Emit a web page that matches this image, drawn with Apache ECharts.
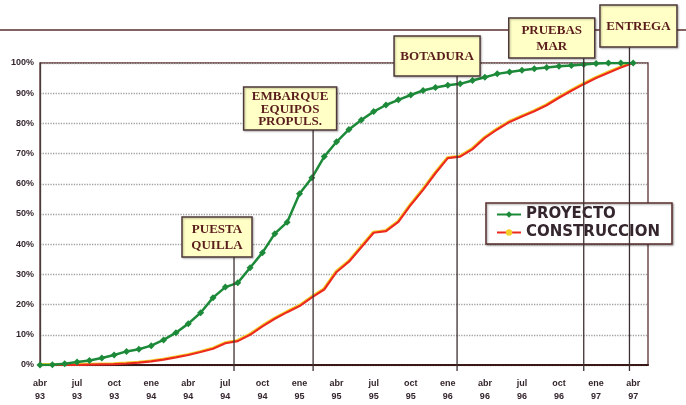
<!DOCTYPE html>
<html>
<head>
<meta charset="utf-8">
<script src="https://cdn.jsdelivr.net/npm/echarts@6/dist/echarts.min.js"></script>
<style>
html,body{margin:0;padding:0;background:#fff;}
#chart{width:686px;height:405px;}
</style>
</head>
<body>
<div id="chart"></div>
<script>
// etiquetas del eje x (un trimestre cada 3 meses, abr 93 - abr 97)
var tickLabels = ['abr\n93','jul\n93','oct\n93','ene\n94','abr\n94','jul\n94','oct\n94','ene\n95','abr\n95',
	'jul\n95','oct\n95','ene\n96','abr\n96','jul\n96','oct\n96','ene\n97','abr\n97'];

// avance acumulado (%) mes a mes desde abr 93
var proyecto = [0, 0.1, 0.4, 1.0, 1.5, 2.3, 3.3, 4.5, 5.2, 6.4, 8.3, 10.7, 13.7, 17.3, 22.3, 25.8, 27.2,
	32.2, 37.2, 43.5, 47.3, 56.7, 62, 69, 73.9, 78, 81.1, 83.9, 86.1, 87.8, 89.4, 90.9, 91.9, 92.6, 93.1,
	94.2, 95.3, 96.4, 97.0, 97.6, 98.1, 98.5, 98.9, 99.2, 99.5, 99.8, 100, 100, 100];
var construccion = [0, 0, 0, 0, 0.1, 0.2, 0.3, 0.5, 0.8, 1.2, 1.8, 2.5, 3.3, 4.3, 5.4, 7.2, 7.9,
	10, 12.8, 15.3, 17.5, 19.5, 22.4, 25, 30.8, 34.2, 39, 43.8, 44.3, 47.4, 53, 58, 63.5, 68.5, 69,
	71.5, 75.2, 78, 80.5, 82.3, 84, 86, 88.5, 90.8, 93, 95, 96.8, 98.5, 100];

// hitos (mes desde abr 93)
var hitoNombres = ['PUESTA\nQUILLA', 'EMBARQUE\nEQUIPOS\nPROPULS.', 'BOTADURA', 'PRUEBAS\nMAR', 'ENTREGA'];
var hitoMeses = [15.7, 22.1, 33.75, 44, 47.7];

// cajas de los hitos: desplazamiento del centro respecto a la linea, arriba, ancho, alto, interlineado
var CAJAS = [
	{dx:-17, top:217, w:70, h:40, lh:16},
	{dx:-23, top:87, w:93, h:43, lh:12.5},
	{dx:-20, top:36, w:86, h:40, lh:16},
	{dx:-32, top:18, w:86, h:40, lh:16},
	{dx:9,   top:5,  w:77, h:42, lh:16}
];

var COLOR = {
	PROYECTO:'#1d8a3a',
	CONSTRUCCION:'#ec2a1e',
	HALO:'#f4cf2a',
	MARCO:'#5a2e2e',
	TEXTO:'#35262e',
	CAJA:'#ffffc6',
	CAJA_TEXTO:'#5a1c1c'
};

var chart = echarts.init(document.getElementById('chart'), null, {renderer:'canvas'});

chart.setOption({
	animation:false,
	backgroundColor:'#fff',
	grid:{
		left:40, right:38, top:63, bottom:40,
		show:true,
		borderColor:COLOR.MARCO,
		borderWidth:1.3
	},
	legend:{
		orient:'vertical',
		left:486, top:203,
		backgroundColor:'#fff',
		borderColor:COLOR.MARCO,
		borderWidth:1.5,
		shadowColor:'rgba(0,0,0,0.35)',
		shadowBlur:2, shadowOffsetX:1, shadowOffsetY:1,
		padding:[4,12,4,10],
		itemGap:3,
		itemWidth:24,
		itemHeight:8,
		textStyle:{
			fontFamily:'DejaVu Sans',
			fontWeight:'bold',
			fontSize:15,
			color:COLOR.TEXTO
		},
		data:['PROYECTO','CONSTRUCCION']
	},
	xAxis:{
		type:'value',
		min:0, max:49.2, interval:3,
		axisLine:{show:true, onZero:false, lineStyle:{color:'#3a1818', width:2}},
		axisTick:{show:false},
		splitLine:{show:false},
		axisLabel:{
			showMaxLabel:false,
			margin:12,
			lineHeight:13,
			fontFamily:'Liberation Sans',
			fontWeight:'bold',
			fontSize:9,
			color:COLOR.TEXTO,
			formatter:function(v){
				var i = v/3;
				return (Math.round(i) === i && tickLabels[i]) ? tickLabels[i] : '';
			}
		}
	},
	yAxis:{
		type:'value',
		min:0, max:100, interval:10,
		axisLine:{show:true, lineStyle:{color:'#4a3a3a', width:1.3}},
		axisTick:{show:false},
		splitLine:{show:true, lineStyle:{type:'dotted', color:'#a0a0a0', width:1.3}},
		axisLabel:{
			margin:6,
			fontFamily:'Liberation Sans',
			fontWeight:'bold',
			fontSize:9,
			color:COLOR.TEXTO,
			formatter:'{value}%'
		}
	},
	series:[
		{
			name:'PROYECTO',
			type:'line',
			symbol:'diamond',
			symbolSize:7,
			itemStyle:{color:COLOR.PROYECTO},
			lineStyle:{color:COLOR.PROYECTO, width:2.5},
			z:3,
			data:proyecto.map(function(v,i){return [i,v];})
		},
		{
			name:'CONSTRUCCION',
			type:'line',
			symbol:'circle',
			symbolSize:3,
			showSymbol:false,
			itemStyle:{color:COLOR.HALO},
			lineStyle:{
				color:COLOR.CONSTRUCCION, width:2.2,
				shadowColor:COLOR.HALO, shadowBlur:0, shadowOffsetX:-0.7, shadowOffsetY:-0.8
			},
			z:2,
			data:construccion.map(function(v,i){return [i,v];})
		}
	]
});

// hitos: linea vertical + caja con texto
function renderHitos(){
	var elems = [];
	elems.push({
		type:'line', z:1,
		shape:{x1:0, y1:30, x2:686, y2:30},
		style:{stroke:COLOR.MARCO, lineWidth:1.5}
	});
	for(var i = 0; i < hitoMeses.length; i++){
		var p = chart.convertToPixel({gridIndex:0}, [hitoMeses[i], 0]);
		var c = CAJAS[i];
		var cx = p[0] + c.dx;
		elems.push({
			type:'line', z:5,
			shape:{x1:p[0], y1:c.top + c.h, x2:p[0], y2:p[1] + 6},
			style:{stroke:'#3e3030', lineWidth:1.3}
		});
		elems.push({
			type:'rect', z:10,
			shape:{x:cx - c.w/2, y:c.top, width:c.w, height:c.h},
			style:{fill:COLOR.CAJA, stroke:'#4e3838', lineWidth:1.5,
				shadowColor:'rgba(0,0,0,0.25)', shadowBlur:2, shadowOffsetX:1, shadowOffsetY:1}
		});
		elems.push({
			type:'text', z:11,
			x:cx, y:c.top + c.h/2 + 1,
			style:{
				text:hitoNombres[i],
				align:'center',
				verticalAlign:'middle',
				fontFamily:'Liberation Serif',
				fontWeight:'bold',
				fontSize:13,
				lineHeight:c.lh,
				fill:COLOR.CAJA_TEXTO
			}
		});
	}
	chart.setOption({graphic:elems});
}

renderHitos();
</script>
</body>
</html>
